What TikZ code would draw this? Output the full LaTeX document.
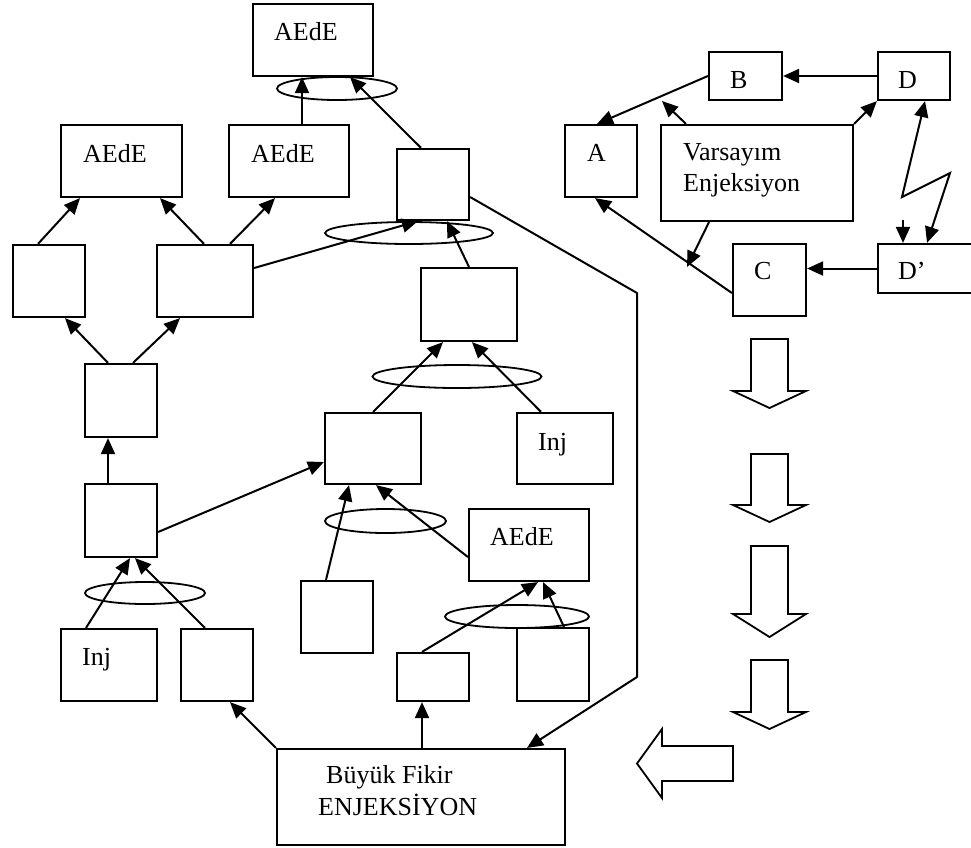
\documentclass[tikz,border=0pt]{standalone}
\usepackage{fontspec}
\setmainfont{Liberation Serif}
\usetikzlibrary{arrows.meta,shapes.geometric}
\begin{document}
\begin{tikzpicture}[x=1pt,y=-1pt,
 bx/.style={draw,line width=2.2pt,inner sep=0pt,rectangle},
 ov/.style={draw,line width=1.8pt,ellipse,inner sep=0pt},
 lbl/.style={anchor=base west,inner sep=0pt,font=\fontsize{26}{30}\selectfont},
 tip/.tip={Triangle[length=16pt,width=14pt]},
 con/.style={line width=2pt,-tip},
 ln/.style={line width=2pt},
 blk/.style={draw,line width=1.8pt,line join=miter}]
\useasboundingbox (0,0) rectangle (971,847);

% ---------- ellipses ----------
\node[ov,minimum width=120pt,minimum height=23pt] (e1) at (337,88.5) {};
\node[ov,minimum width=168pt,minimum height=22pt] (e2) at (409,233) {};
\node[ov,minimum width=169pt,minimum height=23pt] (e3) at (457,376.5) {};
\node[ov,minimum width=121pt,minimum height=24pt] (e4) at (385.5,521) {};
\node[ov,minimum width=144pt,minimum height=23pt] (e5) at (517,616.5) {};
\node[ov,minimum width=120pt,minimum height=22pt] (e6) at (145,593) {};

% ---------- boxes (left tree) ----------
\node[bx,minimum width=120pt,minimum height=72pt] (t)   at (313,40) {};
\node[bx,minimum width=121pt,minimum height=72pt] (al)  at (121.5,161) {};
\node[bx,minimum width=120pt,minimum height=72pt] (am)  at (289,161) {};
\node[bx,minimum width=72pt,minimum height=71pt]  (s1)  at (433,184.5) {};
\node[bx,minimum width=72pt,minimum height=72pt]  (l1)  at (49,281) {};
\node[bx,minimum width=96pt,minimum height=72pt]  (l2)  at (205,281) {};
\node[bx,minimum width=72pt,minimum height=73pt]  (m1)  at (121,400.5) {};
\node[bx,minimum width=96pt,minimum height=73pt]  (c2)  at (469,304.5) {};
\node[bx,minimum width=96pt,minimum height=71pt]  (c1)  at (373,448.5) {};
\node[bx,minimum width=96pt,minimum height=71pt]  (inj1) at (565,448.5) {};
\node[bx,minimum width=72pt,minimum height=73pt]  (m2)  at (121,520.5) {};
\node[bx,minimum width=120pt,minimum height=72pt] (ar)  at (529,545) {};
\node[bx,minimum width=72pt,minimum height=72pt]  (b1)  at (337,617) {};
\node[bx,minimum width=72pt,minimum height=48pt]  (b2)  at (433,677) {};
\node[bx,minimum width=72pt,minimum height=73pt]  (b3)  at (553,664.5) {};
\node[bx,minimum width=96pt,minimum height=72pt]  (inj2) at (109,665) {};
\node[bx,minimum width=72pt,minimum height=72pt]  (lb2) at (217,665) {};
\node[bx,minimum width=288pt,minimum height=96pt] (bf)  at (421,797) {};

% ---------- boxes (right scheme) ----------
\node[bx,minimum width=72pt,minimum height=72pt]  (A)  at (601,161) {};
\node[bx,minimum width=73pt,minimum height=48pt]  (B)  at (745.5,76) {};
\node[bx,minimum width=72pt,minimum height=48pt]  (D)  at (914,76) {};
\node[bx,minimum width=192pt,minimum height=96pt] (V)  at (757,173) {};
\node[bx,minimum width=73pt,minimum height=72pt]  (C)  at (769.5,280) {};
\node[bx,minimum width=112pt,minimum height=49pt] (Dp) at (934,268.5) {};

% ---------- labels ----------
\node[lbl] (tt)  at (274,40) {AEdE};
\node[lbl] (alt) at (83,162) {AEdE};
\node[lbl] (amt) at (251,162) {AEdE};
\node[lbl] (art) at (490,545) {AEdE};
\node[lbl] (i1t) at (538,450) {Inj};
\node[lbl] (i2t) at (82,665) {Inj};
\node[lbl] (bft1) at (326,783) {Büyük Fikir};
\node[lbl] (bft2) at (318,815) {ENJEKSİYON};
\node[lbl] (At) at (587,161) {A};
\node[lbl] (Bt) at (730,88) {B};
\node[lbl] (Dt) at (898,88) {D};
\node[lbl] (Vt1) at (683,160) {Varsayım};
\node[lbl] (Vt2) at (683,191) {Enjeksiyon};
\node[lbl] (Ct) at (754,279) {C};
\node[lbl] (Dpt) at (898,279) {D’};

% ---------- connectors (left tree) ----------
\draw[con] ([xshift=13pt]am.north) -- ([xshift=-11pt]t.south);
\draw[con] ([xshift=-12pt]s1.north) -- ([xshift=37pt]t.south);
\draw[con] ([xshift=-11pt]l1.north) -- ([xshift=-41.5pt]al.south);
\draw[con] ([xshift=-1pt]l2.north) -- ([xshift=38.5pt]al.south);
\draw[con] ([xshift=25pt]l2.north) -- ([xshift=-14pt]am.south);
\draw[con] ([yshift=13pt]l2.east) -- ([xshift=-15pt]s1.south);
\draw[con] (c2.north) -- ([xshift=14pt]s1.south);
\coordinate (k1) at (637,293);
\coordinate (k2) at (637,677);
\draw[con,line join=round] ([yshift=-12.5pt]s1.east) -- (k1) -- (k2) -- ([xshift=106pt]bf.north);
\draw[con] ([xshift=-13pt]m1.north) -- ([xshift=16pt]l1.south);
\draw[con] ([xshift=12pt]m1.north) -- ([xshift=-25pt]l2.south);
\draw[con] ([xshift=-13pt]m2.north) -- ([xshift=-13pt]m1.south);
\draw[con] ([yshift=-11.5pt]m2.east) -- ([yshift=-13.5pt]c1.west);
\draw[con] (c1.north) -- ([xshift=-26pt]c2.south);
\draw[con] ([xshift=-24pt]inj1.north) -- ([xshift=3pt]c2.south);
\draw[con] ([xshift=-11pt]b1.north) -- ([xshift=-24pt]c1.south);
\draw[con] ([yshift=-12pt]ar.west) -- ([xshift=3pt]c1.south);
\draw[con] ([xshift=-11pt]b2.north) -- ([xshift=9pt]ar.south);
\draw[con] ([xshift=11pt]b3.north) -- ([xshift=14pt]ar.south);
\draw[con] ([xshift=-23pt]inj2.north) -- ([xshift=9pt]m2.south);
\draw[con] ([xshift=-12pt]lb2.north) -- ([xshift=14pt]m2.south);
\draw[con] ([xshift=1pt]bf.north) -- ([xshift=-11pt]b2.south);
\draw[con] (bf.north west) -- ([xshift=13pt]lb2.south);

% ---------- connectors (right scheme) ----------
\draw[con] (D.west) -- (B.east);
\draw[con] (B.west) -- ([xshift=-4pt]A.north);
\coordinate (vb) at (662,101);
\draw[con] ([xshift=-71pt]V.north) -- (vb);
\draw[con] (V.north east) -- (D.south west);
\coordinate (vc) at (687,267);
\draw[con] ([xshift=-48pt]V.south) -- (vc);
\draw[con] ([yshift=-13pt]C.west) -- ([xshift=-6pt]A.south);
\draw[con] (Dp.west) -- (Dp.west -| C.east);
\coordinate (z1) at (902,197);
\coordinate (z2) at (950,173);
\draw[ln,tip-tip,line join=miter] ([xshift=11pt]D.south) -- (z1) -- (z2) -- ([xshift=-7pt]Dp.north);
\coordinate (sd) at (903,220);
\draw[con] (sd) -- ([xshift=-31pt]Dp.north);

% ---------- block arrows ----------
\draw[blk] (751,339) -- (788,339) -- (788,391) -- (806,391) -- (769.5,408) -- (733,391) -- (751,391) -- cycle;
\draw[blk] (751,454) -- (788,454) -- (788,505) -- (806,505) -- (769.5,522) -- (733,505) -- (751,505) -- cycle;
\draw[blk] (751,546) -- (788,546) -- (788,614) -- (806,614) -- (769.5,637) -- (733,614) -- (751,614) -- cycle;
\draw[blk] (751,660) -- (788,660) -- (788,712) -- (806,712) -- (769.5,729) -- (733,712) -- (751,712) -- cycle;
\draw[blk] (733,746) -- (733,781) -- (662,781) -- (662,798) -- (637,763.5) -- (662,729) -- (662,746) -- cycle;
\end{tikzpicture}
\end{document}
